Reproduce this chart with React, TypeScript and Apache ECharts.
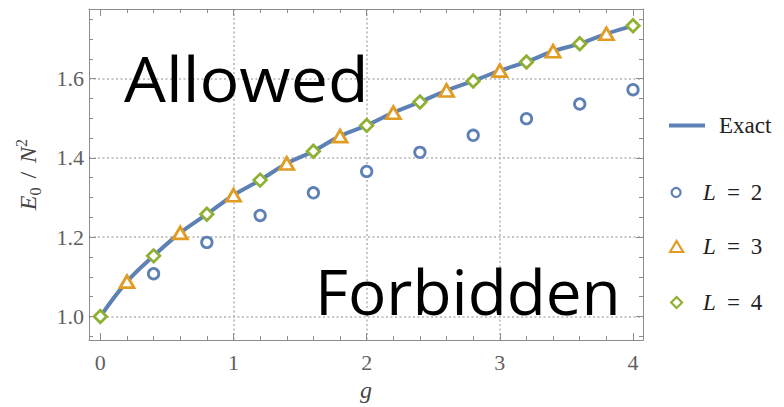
import React, { useEffect, useRef } from "react";
import * as echarts from "echarts";

// ---- data ----
const gL4 = [0, 0.4, 0.8, 1.2, 1.6, 2.0, 2.4, 2.8, 3.2, 3.6, 4.0];
const l4Values = [1.0, 1.153, 1.258, 1.344, 1.417, 1.482, 1.541, 1.594, 1.642, 1.688, 1.733];
const gL3 = [0.2, 0.6, 1.0, 1.4, 1.8, 2.2, 2.6, 3.0, 3.4, 3.8];
const l3Values = [1.088, 1.211, 1.306, 1.386, 1.455, 1.514, 1.57, 1.62, 1.669, 1.713];
const gL2 = [0.4, 0.8, 1.2, 1.6, 2.0, 2.4, 2.8, 3.2, 3.6, 4.0];
const l2Values = [1.108, 1.187, 1.255, 1.312, 1.366, 1.414, 1.457, 1.499, 1.536, 1.572];
const gExact = [0, 0.2, 0.4, 0.6, 0.8, 1.0, 1.2, 1.4, 1.6, 1.8, 2.0, 2.2, 2.4, 2.6, 2.8, 3.0, 3.2, 3.4, 3.6, 3.8, 4.0];
const exactValues = [1.0, 1.088, 1.153, 1.211, 1.258, 1.306, 1.344, 1.386, 1.417, 1.455, 1.482, 1.514, 1.541, 1.57, 1.594, 1.62, 1.642, 1.669, 1.688, 1.713, 1.733];

const xMajorTicks = [0, 1, 2, 3, 4];
const xMinorTicks = [0.2, 0.4, 0.6, 0.8, 1.2, 1.4, 1.6, 1.8, 2.2, 2.4, 2.6, 2.8, 3.2, 3.4, 3.6, 3.8];
const xGridValues = [1, 2, 3];
const yMajorTicks = [1.0, 1.2, 1.4, 1.6];
const yMinorTicks = [0.95, 1.05, 1.1, 1.15, 1.25, 1.3, 1.35, 1.45, 1.5, 1.55, 1.65, 1.7, 1.75];

const seriesNames = ["Exact", "L = 2", "L = 3", "L = 4"];
const annotations = ["Allowed", "Forbidden"];

const X_MIN = -0.085, X_MAX = 4.075;
const Y_MIN = 0.9406, Y_MAX = 1.7755;

const BLUE = "#5E81B5", ORANGE = "#E19C24", GREEN = "#8FB032";
const FRAME = "#8c8c8c";
const SERIF = "'Liberation Serif', 'DejaVu Serif', serif";
const SANS = "'Open Sans', 'Noto Sans', sans-serif";

function zip(xs: number[], ys: number[]) {
  return xs.map((x, i) => [x, ys[i]]);
}

function xAxisDef(pos: "bottom" | "top", opts: any) {
  return {
    type: "value", gridIndex: 0, position: pos, min: X_MIN, max: X_MAX,
    axisLine: { show: !!opts.line, onZero: false, lineStyle: { color: FRAME, width: 1 } },
    axisTick: {
      show: opts.tickShow !== false, inside: true, length: opts.len || 7,
      customValues: opts.ticks, lineStyle: { color: FRAME, width: 1 },
    },
    axisLabel: opts.labels
      ? { show: true, customValues: opts.labels, margin: 11, fontFamily: SERIF, fontSize: 22, color: "#5f5f5f" }
      : { show: false },
    splitLine: opts.split
      ? { show: true, lineStyle: { color: "#b4b4b4", width: 1.5, type: [2, 2.5] } }
      : { show: false },
    ...(opts.extra || {}),
  };
}

function yAxisDef(pos: "left" | "right", opts: any) {
  return {
    type: "value", gridIndex: 0, position: pos, min: Y_MIN, max: Y_MAX,
    axisLine: { show: !!opts.line, onZero: false, lineStyle: { color: FRAME, width: 1 } },
    axisTick: {
      show: true, inside: true, length: opts.len || 7,
      customValues: opts.ticks, lineStyle: { color: FRAME, width: 1 },
    },
    axisLabel: opts.labels
      ? {
          show: true, customValues: opts.labels, margin: 5, fontFamily: SERIF, fontSize: 22, color: "#5f5f5f",
          formatter: (v: number) => v.toFixed(1),
        }
      : { show: false },
    splitLine: opts.split
      ? { show: true, lineStyle: { color: "#b4b4b4", width: 1.5, type: [2, 2.5] } }
      : { show: false },
    ...(opts.extra || {}),
  };
}

const legendRich = (gapW: number) => ({
  g: { width: gapW, lineHeight: 24 },
  s: { width: 11, lineHeight: 24 },
  i: { fontFamily: SERIF, fontStyle: "italic", fontSize: 23, color: "#222", lineHeight: 24 },
  t: { fontFamily: SERIF, fontSize: 23, color: "#222", lineHeight: 24 },
});

function legendDef(name: string, left: number, top: number, iconW: number, iconH: number, gapW: number, icon?: string) {
  return {
    data: [icon ? { name, icon } : name], left, top, orient: "vertical", padding: 0,
    itemWidth: iconW, itemHeight: iconH, selectedMode: false,
    itemStyle: icon ? { borderWidth: 0 } : { borderWidth: 2.2 },
    formatter: (n: string) =>
      n.startsWith("L") ? `{g|}{i|L}{s|}{t|=}{s|}{t|${n.slice(n.length - 1)}}` : `{g|}{t|${n}}`,
    textStyle: { fontFamily: SERIF, fontSize: 23, color: "#222", rich: legendRich(gapW) },
  };
}

export default function App() {
  const ref = useRef<HTMLDivElement>(null);
  useEffect(() => {
    if (!ref.current) return;
    const chart = echarts.init(ref.current, null, { renderer: "svg" });
    const option: any = {
      animation: false,
      backgroundColor: "#ffffff",
      grid: { left: 89, right: 141, top: 9, bottom: 65, show: false },
      xAxis: [
        xAxisDef("bottom", {
          line: true, ticks: xMajorTicks, labels: xMajorTicks,
          extra: {
            name: "g", nameLocation: "middle", nameGap: 31,
            nameTextStyle: { fontFamily: SERIF, fontStyle: "italic", fontSize: 24, color: "#444" },
          },
        }),
        xAxisDef("bottom", { ticks: xMinorTicks, len: 4 }),
        xAxisDef("top", { line: true, ticks: xMajorTicks }),
        xAxisDef("top", { ticks: xMinorTicks, len: 4 }),
        xAxisDef("bottom", { ticks: xGridValues, tickShow: false, split: true }),
      ],
      yAxis: [
        yAxisDef("left", {
          line: true, ticks: yMajorTicks, labels: yMajorTicks, split: true,
          extra: {
            name: "{i|E}{sb|0}{gp|}{t|/}{gp|}{i|N}{sp|2}", nameLocation: "middle", nameGap: 46, nameRotate: 90,
            nameTextStyle: {
              color: "#444", fontFamily: SERIF, fontSize: 24,
              rich: {
                i: { fontFamily: SERIF, fontStyle: "italic", fontSize: 24, color: "#444", lineHeight: 30 },
                t: { fontFamily: SERIF, fontSize: 24, color: "#444", lineHeight: 30 },
                gp: { width: 9, lineHeight: 30 },
                sb: { fontFamily: SERIF, fontSize: 16, color: "#444", verticalAlign: "bottom", lineHeight: 16 },
                sp: { fontFamily: SERIF, fontSize: 16, color: "#444", verticalAlign: "top", lineHeight: 16 },
              },
            },
          },
        }),
        yAxisDef("left", { ticks: yMinorTicks, len: 4 }),
        yAxisDef("right", { line: true, ticks: yMajorTicks }),
        yAxisDef("right", { ticks: yMinorTicks, len: 4 }),
      ],
      legend: [
        legendDef(seriesNames[0], 669, 114, 36, 4, 9, "rect"),
        legendDef(seriesNames[1], 670.5, 181, 9, 9, 17.5),
        legendDef(seriesNames[2], 669, 235, 13, 11, 15),
        legendDef(seriesNames[3], 670, 291, 11, 11, 16),
      ],
      series: [
        {
          name: seriesNames[0], type: "line", xAxisIndex: 0, yAxisIndex: 0,
          data: zip(gExact, exactValues), smooth: 0.4, symbol: "none", showSymbol: false,
          lineStyle: { color: BLUE, width: 4 }, itemStyle: { color: BLUE }, z: 2,
        },
        {
          name: seriesNames[1], type: "scatter", xAxisIndex: 0, yAxisIndex: 0,
          data: zip(gL2, l2Values), symbol: "circle", symbolSize: 10.5,
          itemStyle: { color: "#ffffff", borderColor: BLUE, borderWidth: 2.8, opacity: 1 }, z: 3,
        },
        {
          name: seriesNames[2], type: "scatter", xAxisIndex: 0, yAxisIndex: 0,
          data: zip(gL3, l3Values), symbol: "triangle", symbolSize: [14, 12],
          itemStyle: { color: "#ffffff", borderColor: ORANGE, borderWidth: 2.8, opacity: 1 }, z: 4,
        },
        {
          name: seriesNames[3], type: "scatter", xAxisIndex: 0, yAxisIndex: 0,
          data: zip(gL4, l4Values), symbol: "diamond", symbolSize: 12.5,
          itemStyle: { color: "#ffffff", borderColor: GREEN, borderWidth: 2.8, opacity: 1 }, z: 5,
        },
      ],
      graphic: [
        {
          type: "text", x: 124, y: 47, scaleX: 1.07, z: 100,
          style: { text: annotations[0], fontFamily: SANS, fontSize: 62, fill: "#000", align: "left", verticalAlign: "top" },
        },
        {
          type: "text", x: 315, y: 260, scaleX: 1.03, z: 100,
          style: { text: annotations[1], fontFamily: SANS, fontSize: 62, fill: "#000", align: "left", verticalAlign: "top" },
        },
      ],
    };
    chart.setOption(option);
    return () => chart.dispose();
  }, []);
  return (
    <div
      ref={ref}
      style={{ position: "fixed", left: 0, top: 0, width: 784, height: 407, background: "#fff" }}
    />
  );
}
